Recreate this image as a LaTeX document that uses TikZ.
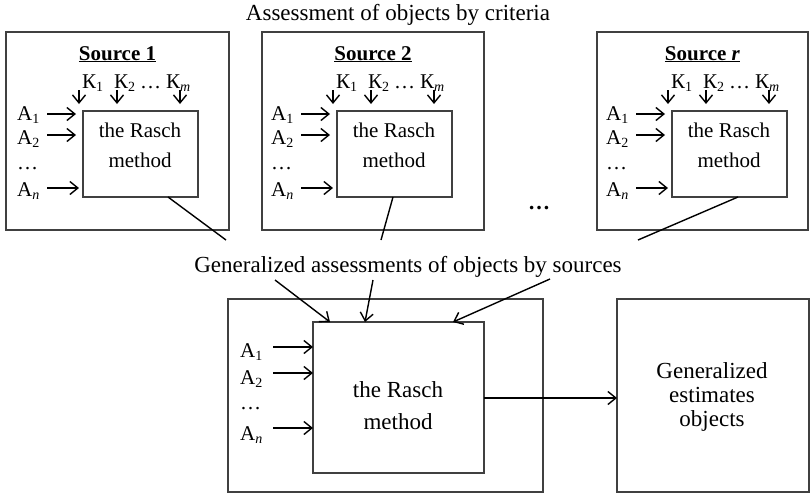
\documentclass[tikz,border=0pt]{standalone}
\usepackage{fontspec}
\setmainfont{Liberation Serif}
\usetikzlibrary{arrows.meta}
\newcommand\subs[1]{\raisebox{-0.18em}{\fontsize{14}{14}\selectfont #1}}
\begin{document}
\begin{tikzpicture}[x=1pt,y=-1pt,
  box/.style={draw=black!75,line width=1.2pt,inner sep=0pt,outer sep=0pt,anchor=north west},
  arr/.style={line width=1.4pt,-{Straight Barb[length=8pt,width=13pt]}},
  ln/.style={line width=1.4pt},
  txt/.style={inner sep=0pt,font=\fontsize{21}{30}\selectfont,align=center},
  big/.style={inner sep=0pt,font=\fontsize{23}{28}\selectfont,align=center},
]
\useasboundingbox (0,0) rectangle (811,493);
\node[big,anchor=base] (title) at (398,20) {Assessment of objects by criteria};

\foreach \n/\ox/\ow/\L/\nm in {1/6/223/83/1, 2/262/222/337/2, r/597/211/672/{\textit{r}}}{
  \node[box,minimum width=\ow pt,minimum height=198pt] (out\n) at (\ox,32) {};
  \node[box,minimum width=115pt,minimum height=86pt] (in\n) at (\L,111) {};
  \node[txt] (rt\n) at (\L+57,145) {the Rasch\\method};
  \node[txt,anchor=base,font=\fontsize{21}{25}\selectfont\bfseries] (st\n) at ({\ox+\ow/2},60) {\underline{Source \nm}};
  \node[txt,anchor=base west] (ka\n) at (\L-1,88) {К\subs{1}};
  \node[txt,anchor=base west] (kb\n) at (\L+31,88) {К\subs{2}};
  \node[txt,anchor=base west] (kd\n) at (\L+57,88) {…};
  \node[txt,anchor=base west] (km\n) at (\L+83,88) {К\subs{\textit{m}}};
  \draw[arr] ([xshift=-4pt,yshift=21pt]in\n.north west) -- ([xshift=-4pt,yshift=7pt]in\n.north west);
  \draw[arr] ([xshift=34pt,yshift=21pt]in\n.north west) -- ([xshift=34pt,yshift=7pt]in\n.north west);
  \draw[arr] ([xshift=97pt,yshift=21pt]in\n.north west) -- ([xshift=97pt,yshift=7pt]in\n.north west);
  \node[txt,anchor=base west] (a1\n) at (\L-66,120) {A\subs{1}};
  \node[txt,anchor=base west] (a2\n) at (\L-66,144) {A\subs{2}};
  \node[txt,anchor=base west] (ad\n) at (\L-66,169) {…};
  \node[txt,anchor=base west] (an\n) at (\L-66,196) {A\subs{\textit{n}}};
  \coordinate (as1\n) at (\L-36,114);
  \coordinate (as2\n) at (\L-36,135);
  \coordinate (asn\n) at (\L-36,188);
  \draw[arr,shorten >=7pt] (as1\n) -- (as1\n -| in\n.west);
  \draw[arr,shorten >=7pt] (as2\n) -- (as2\n -| in\n.west);
  \draw[arr,shorten >=4pt] (asn\n) -- (asn\n -| in\n.west);
}
\node[font=\fontsize{22}{22}\selectfont\bfseries,inner sep=0pt] (dots) at (539,208) {…};

\node[big,anchor=base] (gen) at (408,272) {Generalized assessments of objects by sources};
\coordinate (e1) at (226,240);
\coordinate (e2) at (381,240);
\coordinate (e3) at (638,240);
\draw[ln] ([xshift=85pt]in1.south west) -- (e1);
\draw[ln] ([xshift=56pt]in2.south west) -- (e2);
\draw[ln] ([xshift=66pt]inr.south west) -- (e3);

\node[box,minimum width=315pt,minimum height=193pt] (lo) at (228,299) {};
\node[box,minimum width=171pt,minimum height=151pt] (li) at (313,322) {};
\node[big,font=\fontsize{23}{32}\selectfont] (lt) at (398,406) {the Rasch\\method};
\node[box,minimum width=192pt,minimum height=193pt] (res) at (617,299) {};
\node[big,font=\fontsize{23}{24}\selectfont] (rtx) at (712,397) {Generalized\\estimates\\objects};

\coordinate (g1) at (275,280);
\coordinate (g2) at (373,280);
\coordinate (g3) at (550,279);
\draw[arr] (g1) -- ([xshift=17pt]li.north west);
\draw[arr] (g2) -- ([xshift=52pt]li.north west);
\draw[arr] (g3) -- ([xshift=140pt]li.north west);

\node[txt,anchor=base west] (la1) at (240,357) {A\subs{1}};
\node[txt,anchor=base west] (la2) at (240,384) {A\subs{2}};
\node[txt,anchor=base west] (lad) at (240,409) {…};
\node[txt,anchor=base west] (lan) at (240,440) {A\subs{\textit{n}}};
\coordinate (ls1) at (273,347);
\coordinate (ls2) at (273,373);
\coordinate (lsn) at (273,428);
\draw[arr] (ls1) -- (ls1 -| li.west);
\draw[arr] (ls2) -- (ls2 -| li.west);
\draw[arr] (lsn) -- (lsn -| li.west);
\coordinate (lo1) at (li.east |- 0,398);
\draw[arr] (lo1) -- (lo1 -| res.west);
\end{tikzpicture}
\end{document}
